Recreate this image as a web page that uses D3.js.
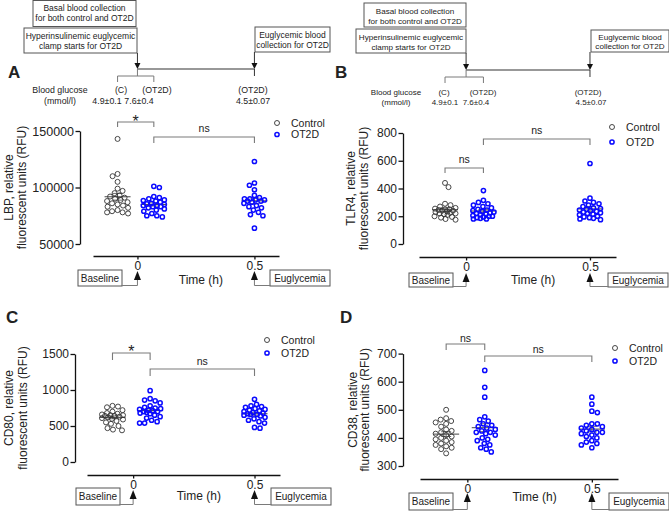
<!DOCTYPE html>
<html>
<head>
<meta charset="utf-8">
<script src="https://cdn.jsdelivr.net/npm/d3@7"></script>
<style>
body { margin: 0; background: #fff; }
text { font-family: "Liberation Sans", Arial, sans-serif; fill: #222; }
</style>
</head>
<body>
<svg width="669" height="511"></svg>
<script>
const svg = d3.select('svg');

// categories and ticks
const groups = ["Control", "OT2D"];
const timeTicks = [0, 0.5];
// time (h) where each group of dots is drawn
const groupTimes = { control: -0.085, ot2d0: 0.07, ot2d05: 0.5 };

// LBP (RFU)
const lbpTicks = [50000, 100000, 150000];
const lbpControl = [143000, 112000, 110000, 105000, 99000, 97000, 95000, 93000, 92000, 91000, 90000, 89000, 88000, 87000, 86000, 85000, 84000, 83000, 82000, 80000, 79000, 78000, 78000, 77000];
const lbpOT2D0 = [101000, 100000, 92000, 91000, 90000, 89000, 88500, 88000, 87000, 86000, 85500, 85000, 84000, 84000, 83000, 83000, 82000, 81000, 80000, 79000, 77000, 75000, 75000, 74000];
const lbpOT2D05 = [123000, 104000, 102000, 98000, 93000, 91000, 90000, 90000, 89000, 89000, 88000, 88000, 87000, 86000, 84000, 83000, 82000, 80000, 78000, 76000, 75000, 64000];

// TLR4 (RFU)
const tlrTicks = [0, 200, 400, 600, 800];
const tlrControl = [440, 410, 290, 280, 270, 260, 255, 250, 250, 245, 240, 240, 235, 230, 225, 220, 220, 215, 210, 200, 195, 190, 180, 175];
const tlrOT2D0 = [385, 315, 300, 290, 280, 270, 260, 250, 245, 240, 235, 230, 225, 220, 215, 210, 205, 200, 200, 195, 190, 185, 180, 180];
const tlrOT2D05 = [580, 330, 310, 300, 290, 280, 270, 260, 255, 250, 245, 240, 235, 230, 225, 220, 215, 210, 200, 195, 190, 185, 180, 175];

// CD80 (RFU)
const cd80Ticks = [0, 500, 1000, 1500];
const cd80Control = [780, 770, 760, 720, 700, 680, 670, 660, 650, 650, 640, 640, 630, 620, 610, 600, 590, 570, 550, 530, 500, 470, 450, 440];
const cd80OT2D0 = [990, 880, 860, 850, 820, 780, 760, 750, 740, 730, 720, 710, 700, 700, 690, 680, 670, 650, 630, 610, 580, 560, 540, 540];
const cd80OT2D05 = [870, 800, 780, 770, 760, 740, 730, 720, 710, 700, 690, 680, 670, 660, 660, 650, 640, 620, 600, 580, 560, 540, 480, 470];

// CD38 (RFU)
const cd38Ticks = [300, 400, 500, 600, 700];
const cd38Control = [500, 470, 465, 460, 455, 450, 440, 430, 425, 420, 415, 410, 405, 400, 395, 390, 385, 380, 375, 370, 365, 360, 345];
const cd38OT2D0 = [640, 580, 545, 475, 465, 460, 450, 445, 440, 435, 430, 425, 420, 420, 415, 410, 400, 395, 390, 380, 375, 365, 360, 350];
const cd38OT2D05 = [545, 520, 495, 490, 450, 450, 445, 440, 435, 430, 425, 420, 420, 415, 410, 405, 400, 390, 385, 380, 375, 365];

// glucose annotation
const glucoseLabel = ["Blood glucose", "(mmol/l)"];
const glucoseGroups = ["(C)", "(OT2D)", "(OT2D)"];
const glucoseValues = ["4.9\u00b10.1", "7.6\u00b10.4", "4.5\u00b10.07"];

const blue = "#0a0aff";
const grey = "#7a7a7a";

const panels = [
  { letter: "A", letterPos: [8, 78], yLabel: ["LBP, relative", "fluorescent units (RFU)"], yLabelX: [13, 26],
    series: [lbpControl, lbpOT2D0, lbpOT2D05], yTicks: lbpTicks, yRange: [244, 131], yAxisX: 80, tickFont: 12.5,
    xRange: [93, 279], xAxisY: 256, legend: [277, 123, 11.5],
    sig: [{ a: "control", b: "ot2d0", y: 122, drop: 5, text: "*", ty: 127 },
          { a: "ot2d0", b: "ot2d05", y: 137, drop: 6, text: "ns", ty: 132 }],
    below: { tip: 271, boxTop: 270, boxH: 16, baseLeft: 78, eugLeft: 270, timeY: 284 },
    top: { hy: 69, brY: 76, brDrop: 6, font: 8.5, gluFont: 8.8,
           box1: [33, 0.5, 103, 26], box1T: [11, 21], box2: [24, 28, 113, 25], box2T: [39, 49],
           box3: [255, 27, 75, 25], box3T: [38, 48],
           gluX: 60, gluY: [93, 104], gX: [121, 157, 253], vX: [107, 139, 253] } },
  { letter: "B", letterPos: [335, 77.5], yLabel: ["TLR4, relative", "fluorescent units (RFU)"], yLabelX: [355, 368],
    series: [tlrControl, tlrOT2D0, tlrOT2D05], yTicks: tlrTicks, yRange: [244, 133], yAxisX: 403, tickFont: 12,
    xRange: [419, 616], xAxisY: 257, legend: [612, 127, 15],
    sig: [{ a: "control", b: "ot2d0", y: 168, drop: 5, text: "ns", ty: 163 },
          { a: "ot2d0", b: "ot2d05", y: 139, drop: 6, text: "ns", ty: 134 }],
    below: { tip: 273, boxTop: 273, boxH: 14, baseLeft: 409, eugLeft: 608, timeY: 284 },
    top: { hy: 70, brY: 77, brDrop: 6, font: 8.1, gluFont: 8,
           box1: [364, 3, 102, 24], box1T: [14, 24], box2: [356, 29, 110, 24], box2T: [40, 50],
           box3: [591, 30, 78, 22], box3T: [40, 49],
           gluX: 396, gluY: [95, 105], gX: [444, 483, 588], vX: [445, 476, 591] } },
  { letter: "C", letterPos: [6, 323], yLabel: ["CD80, relative", "fluorescent units (RFU)"], yLabelX: [13, 27],
    series: [cd80Control, cd80OT2D0, cd80OT2D05], yTicks: cd80Ticks, yRange: [462, 354], yAxisX: 75, tickFont: 12,
    xRange: [87, 280], xAxisY: 475, legend: [267, 340, 13],
    sig: [{ a: "control", b: "ot2d0", y: 353, drop: 7, text: "*", ty: 357 },
          { a: "ot2d0", b: "ot2d05", y: 369, drop: 7, text: "ns", ty: 365 }],
    below: { tip: 490, boxTop: 488, boxH: 17, baseLeft: 76, eugLeft: 271, timeY: 500 } },
  { letter: "D", letterPos: [340, 323], yLabel: ["CD38, relative", "fluorescent units (RFU)"], yLabelX: [357, 369],
    series: [cd38Control, cd38OT2D0, cd38OT2D05], yTicks: cd38Ticks, yRange: [466, 353.6], yAxisX: 403, tickFont: 12,
    xRange: [420, 618], xAxisY: 479, legend: [615, 348, 13],
    sig: [{ a: "control", b: "ot2d0", y: 344, drop: 6, text: "ns", ty: 341.5 },
          { a: "ot2d0", b: "ot2d05", y: 356, drop: 6, text: "ns", ty: 353 }],
    below: { tip: 493, boxTop: 493, boxH: 17, baseLeft: 409, eugLeft: 609, timeY: 501 } }
];

// beeswarm kept inside +-half px: each dot takes the spot with the most room, nearest the centre
function swarm(values, y, cx, d, half) {
  const pts = values.map(v => ({ v: v, y: y(v) })).sort((a, b) => a.y - b.y);
  const placed = [];
  pts.forEach((p, i) => {
    let best = cx, bestScore = -Infinity;
    const side = i % 2 ? 1 : -1;
    for (let dx = 0; dx <= half; dx += 0.5) {
      [side, -side].forEach(s => {
        const xx = cx + s * dx;
        let md = d;
        placed.forEach(q => { md = Math.min(md, Math.hypot(q.x - xx, q.y - p.y)); });
        const score = md - 0.03 * dx;
        if (score > bestScore + 1e-9) { bestScore = score; best = xx; }
      });
    }
    p.x = best;
    placed.push(p);
  });
  return placed;
}

function textBox(g, r, lines, baselines, font) {
  g.append("rect").attr("x", r[0]).attr("y", r[1]).attr("width", r[2]).attr("height", r[3])
    .attr("fill", "#fff").attr("stroke", "#555").attr("stroke-width", 1);
  lines.forEach((l, i) => g.append("text").attr("x", r[0] + r[2] / 2).attr("y", baselines[i])
    .attr("text-anchor", "middle").attr("font-size", font).text(l));
}

function arrowUp(g, x, tip) {
  g.append("path").attr("d", `M${x},${tip}L${x - 3.5},${tip + 9}L${x + 3.5},${tip + 9}Z`).attr("fill", "#111");
}

panels.forEach(p => {
  const g = svg.append("g");
  const yDomain = d3.extent(p.yTicks);
  const y = d3.scaleLinear().domain(yDomain).range(p.yRange);
  const x = d3.scaleLinear().domain([-0.19, 0.605]).range(p.xRange);
  const gx = { control: x(groupTimes.control), ot2d0: x(groupTimes.ot2d0), ot2d05: x(groupTimes.ot2d05) };

  g.append("text").attr("x", p.letterPos[0]).attr("y", p.letterPos[1])
    .attr("font-size", 17).attr("font-weight", "bold").attr("fill", "#000").text(p.letter);

  // y axis
  const yAxis = g.append("g").attr("transform", `translate(${p.yAxisX},0)`)
    .call(d3.axisLeft(y).tickValues(p.yTicks).tickFormat(d3.format("d")).tickSize(4.5).tickSizeOuter(0).tickPadding(1.5));
  yAxis.selectAll("path,line").attr("stroke", "#111").attr("stroke-width", 1.3);
  yAxis.selectAll("text").attr("font-size", p.tickFont).attr("font-family", "Liberation Sans, Arial, sans-serif").attr("fill", "#222");

  const midY = (p.yRange[0] + p.yRange[1]) / 2;
  p.yLabel.forEach((l, i) => g.append("text")
    .attr("transform", `translate(${p.yLabelX[i]},${midY}) rotate(-90)`)
    .attr("text-anchor", "middle").attr("font-size", 12).text(l));

  // x axis
  const xAxis = g.append("g").attr("transform", `translate(0,${p.xAxisY})`)
    .call(d3.axisBottom(x).tickValues(timeTicks).tickFormat(d => String(d)).tickSize(3.5).tickSizeOuter(0).tickPadding(2));
  xAxis.selectAll("path,line").attr("stroke", "#111").attr("stroke-width", 1.3);
  xAxis.selectAll("text").attr("font-size", 12).attr("font-family", "Liberation Sans, Arial, sans-serif").attr("fill", "#222");

  g.append("text").attr("x", (x(0) + x(0.5)) / 2 + 5).attr("y", p.below.timeY)
    .attr("text-anchor", "middle").attr("font-size", 12).text("Time (h)");

  // Baseline / Euglycemia markers under the time axis
  const b = p.below;
  const boxBottom = b.boxTop + b.boxH;
  textBox(g, [b.baseLeft, b.boxTop, 44, b.boxH], ["Baseline"], [b.boxTop + b.boxH / 2 + 3.6], 10);
  textBox(g, [b.eugLeft, b.boxTop, 60, b.boxH], ["Euglycemia"], [b.boxTop + b.boxH / 2 + 3.6], 10);
  arrowUp(g, x(0), b.tip);
  arrowUp(g, x(0.5), b.tip);
  g.append("path").attr("d", `M${b.baseLeft + 44},${boxBottom - 0.5}H${x(0)}V${b.tip + 9}`)
    .attr("fill", "none").attr("stroke", grey).attr("stroke-width", 1);
  g.append("path").attr("d", `M${b.eugLeft},${boxBottom - 0.5}H${x(0.5)}V${b.tip + 9}`)
    .attr("fill", "none").attr("stroke", grey).attr("stroke-width", 1);

  // significance brackets
  p.sig.forEach(s => {
    const x1 = gx[s.a], x2 = gx[s.b];
    g.append("path").attr("d", `M${x1},${s.y + s.drop}V${s.y}H${x2}V${s.y + s.drop}`)
      .attr("fill", "none").attr("stroke", grey).attr("stroke-width", 1.1);
    g.append("text").attr("x", (x1 + x2) / 2).attr("y", s.ty).attr("text-anchor", "middle")
      .attr("font-size", s.text === "*" ? 16 : 10.5).text(s.text);
  });

  // dots with mean and SEM
  const keys = ["control", "ot2d0", "ot2d05"];
  p.series.forEach((vals, i) => {
    const isCtrl = i === 0;
    const cx = gx[keys[i]];
    const pts = swarm(vals, y, cx, 5.4, 10.5);
    const mean = d3.mean(vals);
    const sem = d3.deviation(vals) / Math.sqrt(vals.length);
    const m = y(mean);
    g.append("line").attr("x1", cx - 13).attr("x2", cx + 13).attr("y1", m).attr("y2", m)
      .attr("stroke", "#444").attr("stroke-width", 1);
    g.append("path")
      .attr("d", `M${cx},${y(mean - sem)}V${y(mean + sem)}M${cx - 5},${y(mean - sem)}H${cx + 5}M${cx - 5},${y(mean + sem)}H${cx + 5}`)
      .attr("fill", "none").attr("stroke", "#444").attr("stroke-width", 0.8);
    g.append("g").selectAll("circle").data(pts).enter().append("circle")
      .attr("cx", d => d.x).attr("cy", d => d.y)
      .attr("r", isCtrl ? 2.5 : 2.1)
      .attr("fill", "none")
      .attr("stroke", isCtrl ? "#333" : blue)
      .attr("stroke-width", isCtrl ? 0.9 : 1.5);
  });

  // legend
  const [lx, ly, ldy] = p.legend;
  groups.forEach((name, i) => {
    g.append("circle").attr("cx", lx).attr("cy", ly + i * ldy).attr("r", i === 0 ? 2.5 : 2.1)
      .attr("fill", "none").attr("stroke", i === 0 ? "#333" : blue).attr("stroke-width", i === 0 ? 0.9 : 1.5);
    g.append("text").attr("x", lx + 14).attr("y", ly + i * ldy + 3.8).attr("font-size", 10.5).text(name);
  });

  // timeline annotation above panels A and B
  if (p.top) {
    const t = p.top;
    const x0 = x(0), x1 = x(0.5);
    textBox(g, t.box1, ["Basal blood collection", "for both control and OT2D"], t.box1T, t.font);
    textBox(g, t.box2, ["Hyperinsulinemic euglycemic", "clamp starts for OT2D"], t.box2T, t.font);
    textBox(g, t.box3, ["Euglycemic blood", "collection for OT2D"], t.box3T, t.font);
    const line = "#333";
    g.append("line").attr("x1", x0).attr("x2", x0).attr("y1", t.box2[1] + t.box2[3]).attr("y2", t.hy - 5).attr("stroke", line);
    g.append("line").attr("x1", x1).attr("x2", x1).attr("y1", t.box3[1] + t.box3[3]).attr("y2", t.hy - 5).attr("stroke", line);
    [x0, x1].forEach(xx => g.append("path").attr("d", `M${xx},${t.hy}L${xx - 3},${t.hy - 6}L${xx + 3},${t.hy - 6}Z`).attr("fill", "#111"));
    g.append("line").attr("x1", x0).attr("x2", x1).attr("y1", t.hy).attr("y2", t.hy).attr("stroke", line).attr("stroke-width", 1.1);
    g.append("line").attr("x1", x1).attr("x2", x1).attr("y1", t.hy).attr("y2", t.brY).attr("stroke", line);
    g.append("line").attr("x1", x0).attr("x2", x0).attr("y1", t.hy).attr("y2", t.brY).attr("stroke", grey);
    g.append("path").attr("d", `M${gx.control},${t.brY + t.brDrop}V${t.brY}H${gx.ot2d0}V${t.brY + t.brDrop}`)
      .attr("fill", "none").attr("stroke", grey);
    glucoseLabel.forEach((l, i) => g.append("text").attr("x", t.gluX).attr("y", t.gluY[i])
      .attr("text-anchor", "middle").attr("font-size", t.gluFont).text(l));
    glucoseGroups.forEach((l, i) => g.append("text").attr("x", t.gX[i]).attr("y", t.gluY[0])
      .attr("text-anchor", "middle").attr("font-size", t.gluFont).text(l));
    glucoseValues.forEach((l, i) => g.append("text").attr("x", t.vX[i]).attr("y", t.gluY[1])
      .attr("text-anchor", "middle").attr("font-size", t.gluFont).text(l));
  }
});
</script>
</body>
</html>
